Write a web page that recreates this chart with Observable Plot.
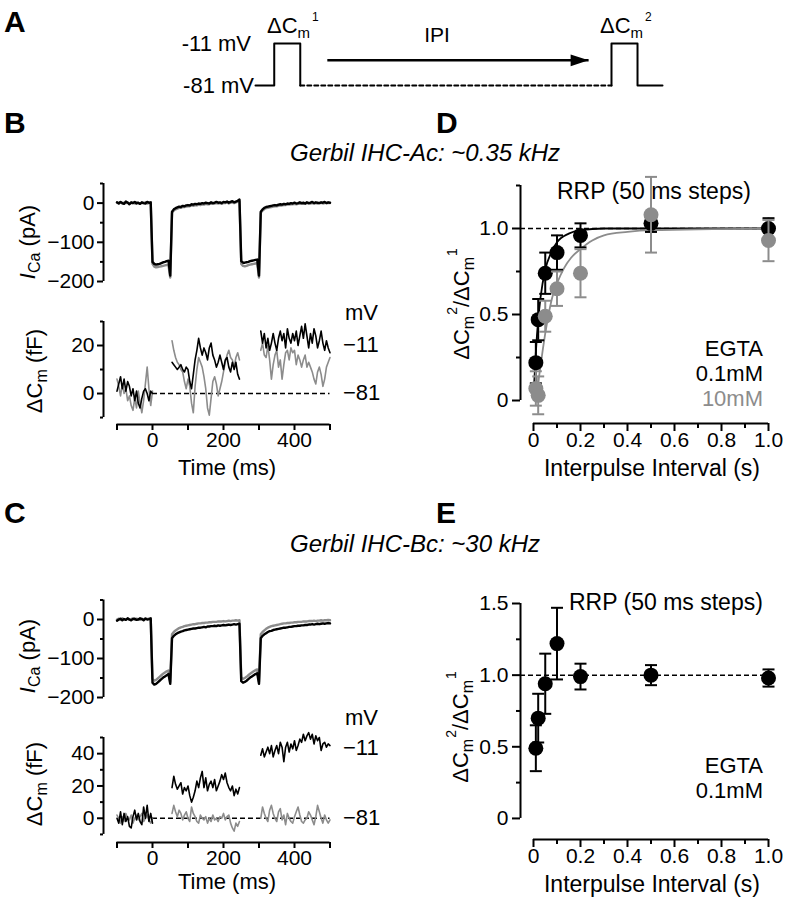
<!DOCTYPE html>
<html><head><meta charset="utf-8">
<script src="https://cdn.jsdelivr.net/npm/d3@7"></script>
<script src="https://cdn.jsdelivr.net/npm/@observablehq/plot@0.6"></script>
<style>
body{margin:0;background:#fff;}
#fig{position:relative;width:785px;height:900px;background:#fff;}
</style></head><body><div id="fig"></div>
<script>
// ---------------- DATA ----------------
// Panel A: voltage protocol (ms, mV)
const protoPulse1T = [-36, 0, 0, 50, 50];
const protoPulse1V = [-81, -81, -11, -11, -81];
const protoIpiT = [50, 648];
const protoIpiV = [-81, -81];
const protoPulse2T = [648, 648, 698, 698, 746];
const protoPulse2V = [-81, -11, -11, -81, -81];
const ipiArrow = {t1: 102, t2: 604, v: -39};

// Calcium current traces (pA), sampled every 5 ms from -100 ms
const icaT0 = -100, icaDt = 5;
const icaB_black = [2,-1,3,0,-2,4,1,-3,2,0,3,-1,1,-2,2,0,-1,3,1,2,
  -150,-155,-157,-156,-155,-153,-151,-150,-148,-147, -185,
  -22,-16,-13,-11,-9,-10,-7,-8,-6,-5,-6,-3,-4,-2,-3,-1,-2,0,-1,1,0,-1,2,0,1,3,1,2,0,3,2,4,1,3,5,2,4,6,9,
  -148,-152,-152,-151,-150,-148,-147,-146,-145,-144, -185,
  -22,-16,-12,-10,-9,-8,-7,-6,-5,-6,-4,-3,-4,-2,-3,-1,-2,0,-1,1,-1,0,2,0,1,-1,2,0,1,3,0,2,1,0,2,1,3,0,2,1];
const icaB_gray = [1,0,2,-1,1,0,2,-2,0,1,-1,2,0,-1,1,0,2,-1,0,1,
  -155,-162,-164,-163,-162,-161,-160,-159,-158,-158, -190,
  -25,-19,-16,-14,-12,-12,-10,-10,-9,-8,-8,-6,-7,-5,-6,-4,-5,-3,-4,-2,-3,-3,-1,-2,-1,0,-1,0,-2,1,0,2,-1,1,2,0,2,3,5,
  -155,-160,-161,-160,-158,-157,-156,-155,-154,-153, -190,
  -25,-19,-15,-13,-12,-11,-10,-9,-8,-8,-7,-6,-6,-5,-5,-4,-4,-3,-3,-2,-3,-2,-1,-2,-1,-2,0,-1,-1,0,-1,0,-1,0,1,-1,0,0,1,0];
const icaC_black = [-3,0,2,-2,1,-1,3,0,-2,1,2,-1,0,3,1,-2,2,0,1,3,
  -162,-167,-165,-161,-157,-153,-149,-146,-143,-140, -165,
  -48,-42,-38,-35,-33,-31,-30,-28,-27,-26,-25,-24,-23,-23,-22,-21,-21,-20,-19,-20,-18,-18,-17,-17,-16,-17,-15,-16,-15,-14,-15,-14,-13,-14,-13,-12,-13,-12,-11,
  -158,-162,-160,-157,-153,-149,-146,-143,-140,-138, -165,
  -48,-42,-38,-35,-32,-30,-29,-27,-26,-25,-24,-23,-22,-21,-21,-20,-19,-19,-18,-17,-17,-16,-16,-15,-15,-14,-14,-13,-13,-12,-13,-12,-11,-12,-11,-10,-11,-10,-9,-10];
const icaC_gray = [0,2,-1,3,1,0,2,-1,1,3,0,2,1,-1,2,0,3,1,2,0,
  -152,-157,-155,-151,-147,-143,-139,-136,-133,-131, -160,
  -38,-32,-28,-25,-22,-20,-19,-17,-16,-15,-14,-13,-12,-12,-11,-10,-10,-9,-9,-8,-8,-7,-7,-6,-6,-6,-5,-5,-5,-4,-5,-4,-3,-4,-3,-3,-2,-3,-2,
  -148,-152,-150,-147,-143,-139,-136,-133,-130,-128, -160,
  -38,-32,-28,-24,-21,-19,-17,-16,-15,-14,-13,-12,-11,-10,-10,-9,-9,-8,-8,-7,-7,-6,-6,-6,-5,-5,-5,-4,-4,-4,-3,-4,-3,-3,-2,-3,-2,-2,-1,-2];

// Capacitance traces (fF), three segments sampled every 5 ms
const cmSegStart = [-100, 55, 305], cmDt = 5;
const cmB_black = [
  [1,4,7,2,6,1,5,3,-1,2,-3,1,-4,-6,-2,1,2,0,-3,1,0],
  [13,12,11,10,11,12,10,9,11,10,5,2,8,14,18,23,19,16,19,17,14,19,21,16,14,11,13,16,13,10,14,15,11,9,13,10,13,8,6],
  [26,21,25,19,23,18,21,25,21,18,23,26,22,25,19,27,23,21,25,22,26,20,24,28,23,29,24,19,25,21,27,24,19,22,26,21,18,22,19,17]];
const cmB_gray = [
  [6,3,-1,4,0,2,-3,-1,-5,-7,-2,-6,1,-4,-8,-3,4,11,2,-5,1],
  [22,18,15,13,12,10,9,5,2,6,3,-4,-8,3,10,15,13,11,7,2,-6,-9,-2,5,7,4,-1,2,5,9,13,16,18,15,14,11,15,17,14],
  [18,21,16,15,20,14,6,12,16,18,11,14,6,12,17,18,14,19,17,18,12,16,14,11,14,16,11,13,11,9,6,4,9,11,8,3,6,11,13,15]];
const cmC_black = [
  [0,-3,4,-4,3,-2,1,-5,-6,1,5,-1,3,-2,-4,7,0,8,-2,3,-3],
  [19,26,21,18,20,22,15,19,17,20,14,10,13,17,23,19,25,29,19,25,17,21,23,19,24,17,20,23,27,24,28,22,19,17,20,14,18,15,19],
  [39,43,38,41,44,40,45,38,42,45,40,47,44,35,44,47,41,46,43,48,42,45,49,47,52,48,51,53,49,52,46,51,48,50,42,46,47,44,46,45]];
const cmC_gray = [
  [2,0,-3,1,-2,3,0,-1,2,-3,0,2,-1,1,3,-2,0,2,-1,-3,0],
  [3,8,4,1,5,3,-1,2,4,0,-2,7,3,1,-2,-3,2,0,-1,1,-3,0,-2,2,-1,0,-2,1,0,3,-1,1,2,-3,-6,-8,-3,-5,-2],
  [0,7,3,0,-2,5,8,3,0,-2,4,6,-1,2,-4,3,0,-2,-3,1,4,7,2,-2,-3,-1,0,4,2,-1,-4,1,8,4,0,-3,2,-1,-3,-1]];

// Panel D: ratio vs interpulse interval
const ipiX = [0.01, 0.02, 0.05, 0.1, 0.2, 0.5, 1.0];
const dBlackY = [0.22, 0.47, 0.74, 0.86, 0.96, 1.03, 1.00];
const dBlackE = [0.12, 0.12, 0.12, 0.10, 0.07, 0.05, 0.06];
const dGrayY  = [0.07, 0.03, 0.49, 0.65, 0.74, 1.08, 0.93];
const dGrayE  = [0.10, 0.11, 0.09, 0.10, 0.14, 0.22, 0.12];
const fitBlackT = [0.003, 0.01, 0.02, 0.03, 0.05, 0.075, 0.1, 0.15, 0.2, 0.3, 0.5, 1.0];
const fitBlackY = [0.10, 0.28, 0.47, 0.60, 0.76, 0.86, 0.92, 0.97, 0.99, 1.0, 1.0, 1.0];
const fitGrayT = [0.013, 0.02, 0.03, 0.04, 0.06, 0.08, 0.1, 0.13, 0.16, 0.2, 0.25, 0.3, 0.4, 0.5, 1.0];
const fitGrayY = [0.0, 0.1, 0.2, 0.3, 0.47, 0.6, 0.68, 0.77, 0.83, 0.88, 0.93, 0.96, 0.98, 0.99, 1.0];
// Panel E
const eBlackY = [0.49, 0.70, 0.94, 1.22, 0.99, 1.00, 0.98];
const eBlackE = [0.16, 0.17, 0.21, 0.25, 0.09, 0.07, 0.06];

// ---------------- DRAWING ----------------
const FONT = '"Liberation Sans", Arial, Helvetica, sans-serif';
const GRAY = "#8c8c8c";
const TICKFONT = 21;
const style = {fontFamily: FONT, fontSize: "21px", color: "#000", background: "none", overflow: "visible"};
const fig = document.getElementById("fig");
function place(el, left, top) {
  el.style.position = "absolute"; el.style.left = left + "px"; el.style.top = top + "px";
  fig.appendChild(el);
}
const fmtNeg = d => (d < 0 ? "\u2212" + Math.abs(d) : String(d));
const blank = () => "";
const zip = (ts, vs) => ts.map((t, i) => ({t, v: vs[i]}));
const sampled = (t0, dt, vs) => vs.map((v, i) => ({t: t0 + i * dt, v}));
const segs = (arrs) => arrs.flatMap((vs, k) => vs.map((v, i) => ({t: cmSegStart[k] + i * cmDt, v, seg: k})));

const capSymbol = {draw(ctx, size) { const r = Math.sqrt(size / Math.PI); ctx.moveTo(-r, 0); ctx.lineTo(r, 0); }};
const headSymbol = {draw(ctx, size) { const r = Math.sqrt(size / Math.PI); ctx.moveTo(0, 0); ctx.lineTo(-2 * r, -0.65 * r); ctx.lineTo(-2 * r, 0.65 * r); ctx.closePath(); }};

// Panel A
place(Plot.plot({
  width: 785, height: 100, marginLeft: 255, marginRight: 123, marginTop: 43, marginBottom: 15,
  x: {domain: [-36, 746], axis: null}, y: {domain: [-81, -11], axis: null}, style,
  marks: [
    Plot.line(zip(protoPulse1T, protoPulse1V), {x: "t", y: "v", strokeWidth: 2}),
    Plot.line(zip(protoIpiT, protoIpiV), {x: "t", y: "v", strokeWidth: 2, strokeDasharray: "4,3"}),
    Plot.line(zip(protoPulse2T, protoPulse2V), {x: "t", y: "v", strokeWidth: 2}),
    Plot.link([ipiArrow], {x1: "t1", x2: "t2", y1: "v", y2: "v", strokeWidth: 2.5}),
    Plot.dot([ipiArrow], {x: "t2", y: "v", symbol: headSymbol, r: 9, fill: "#000", stroke: "none"})
  ]
}), 0, 0);

function icaPlot(black, gray, mt, mb) {
  return Plot.plot({
    width: 340, height: 120, marginLeft: 103, marginRight: 10.5, marginTop: mt, marginBottom: mb,
    x: {domain: [-138, 500], axis: null}, y: {domain: [-200, 50]}, style,
    marks: [
      Plot.ruleX([-138], {y1: -200, y2: 50, strokeWidth: 2}),
      Plot.axisY({ticks: [-200, -100, 0], tickSize: 6, tickPadding: 3, tickFormat: fmtNeg, label: null, strokeWidth: 2, fontSize: TICKFONT}),
      Plot.axisY({ticks: [-150, -50, 50], tickSize: 3, tickFormat: blank, label: null, strokeWidth: 2}),
      Plot.line(sampled(icaT0, icaDt, gray), {x: "t", y: "v", stroke: GRAY, strokeWidth: 2.4}),
      Plot.line(sampled(icaT0, icaDt, black), {x: "t", y: "v", stroke: "#000", strokeWidth: 2.4})
    ]
  });
}
function cmPlot(black, gray, yDom, axTop, major, minor, mt, mb) {
  return Plot.plot({
    width: 340, height: 180, marginLeft: 103, marginRight: 10.5, marginTop: mt, marginBottom: mb,
    x: {domain: [-138, 500]}, y: {domain: yDom}, style,
    marks: [
      Plot.ruleX([-138], {y1: -10, y2: axTop, strokeWidth: 2}),
      Plot.axisY({ticks: major, tickSize: 6, tickPadding: 3, tickFormat: fmtNeg, label: null, strokeWidth: 2, fontSize: TICKFONT}),
      Plot.axisY({ticks: minor, tickSize: 3, tickFormat: blank, label: null, strokeWidth: 2}),
      Plot.ruleY([yDom[0]], {x1: -100, x2: 500, strokeWidth: 2}),
      Plot.axisX({ticks: [-100, 0, 100, 200, 300, 400, 500], tickSize: 6, tickPadding: 2,
        tickFormat: d => ([0, 200, 400].includes(d) ? String(d) : ""), label: null, strokeWidth: 2, fontSize: TICKFONT}),
      Plot.ruleY([0], {x1: 0, x2: 500, strokeDasharray: "5,3", strokeWidth: 1.5}),
      Plot.line(segs(gray), {x: "t", y: "v", z: "seg", stroke: GRAY, strokeWidth: 1.6}),
      Plot.line(segs(black), {x: "t", y: "v", z: "seg", stroke: "#000", strokeWidth: 1.6})
    ]
  });
}
place(icaPlot(icaB_black, icaB_gray, 13, 9), 0, 170);
place(cmPlot(cmB_black, cmB_gray, [-12.9, 30], 30, [0, 20], [-10, 10, 30], 21, 56), 0, 300);
place(icaPlot(icaC_black, icaC_gray, 14.5, 8), 0, 585);
place(cmPlot(cmC_black, cmC_gray, [-15, 50], 50, [0, 20, 40], [-10, 10, 30, 50], 17, 58), 0, 720);

function ratioPlot(series, yDom, yTop, major, minor, mt, mb) {
  const marks = [
    Plot.ruleX([-0.0553], {y1: 0, y2: yTop, strokeWidth: 2}),
    Plot.axisY({ticks: major, tickSize: 8, tickPadding: 4, tickFormat: d => (d === 0 ? "0" : d.toFixed(1)), label: null, strokeWidth: 2, fontSize: TICKFONT}),
    Plot.axisY({ticks: minor, tickSize: 4, tickFormat: blank, label: null, strokeWidth: 2}),
    Plot.ruleY([yDom[0]], {x1: 0, x2: 1, strokeWidth: 2}),
    Plot.axisX({ticks: [0, 0.2, 0.4, 0.6, 0.8, 1.0], tickSize: 8, tickPadding: 1, tickFormat: d => (d === 0 ? "0" : d.toFixed(1)), label: null, strokeWidth: 2, fontSize: TICKFONT}),
    Plot.axisX({ticks: [0.1, 0.3, 0.5, 0.7, 0.9], tickSize: 5, tickFormat: blank, label: null, strokeWidth: 2}),
    Plot.ruleY([1], {x1: -0.0553, x2: 1.0, strokeDasharray: "5,3", strokeWidth: 1.5})
  ];
  for (const s of series) {
    if (s.fit) marks.push(Plot.line(s.fit, {x: "t", y: "v", stroke: s.color, strokeWidth: 1.8, curve: "monotone-x"}));
  }
  for (const s of series) {
    const pts = ipiX.map((x, i) => ({x, y: s.y[i], e: s.e[i]}));
    marks.push(
      Plot.ruleX(pts, {x: "x", y1: d => d.y - d.e, y2: d => d.y + d.e, stroke: s.color, strokeWidth: 2}),
      Plot.dot(pts, {x: "x", y: d => d.y + d.e, symbol: capSymbol, r: 6, stroke: s.color, strokeWidth: 2}),
      Plot.dot(pts, {x: "x", y: d => d.y - d.e, symbol: capSymbol, r: 6, stroke: s.color, strokeWidth: 2}),
      Plot.dot(pts, {x: "x", y: "y", r: 7.5, fill: s.color, stroke: "none"})
    );
  }
  return Plot.plot({
    width: 385, height: 310, marginLeft: 120, marginRight: 17, marginTop: mt, marginBottom: mb,
    x: {domain: [-0.0553, 1.0]}, y: {domain: yDom}, style, marks
  });
}
place(ratioPlot([
  {y: dBlackY, e: dBlackE, color: "#000", fit: zip(fitBlackT, fitBlackY)},
  {y: dGrayY, e: dGrayE, color: GRAY, fit: zip(fitGrayT, fitGrayY)}
], [-0.1337, 1.25], 1.25, [0, 0.5, 1.0], [0.25, 0.75, 1.25], 15, 57), 400, 170);
place(ratioPlot([
  {y: eBlackY, e: eBlackE, color: "#000"}
], [-0.147, 1.5], 1.5, [0, 0.5, 1.0, 1.5], [0.25, 0.75, 1.25], 13, 61), 400, 590);

// ---------------- TEXT OVERLAY ----------------
const ov = d3.select(fig).append("svg").attr("width", 785).attr("height", 900)
  .style("position", "absolute").style("left", "0px").style("top", "0px")
  .style("font-family", FONT).style("pointer-events", "none");
function txt(x, y, parts, o = {}) {
  const t = ov.append("text")
    .attr("transform", `translate(${x},${y})` + (o.rotate ? ` rotate(${o.rotate})` : ""))
    .attr("text-anchor", o.anchor || "start").attr("font-size", o.size || 22)
    .attr("font-weight", o.weight || "normal").attr("font-style", o.italic ? "italic" : "normal")
    .attr("fill", o.fill || "#000");
  if (typeof parts === "string") t.text(parts);
  else parts.forEach(p => {
    const s = t.append("tspan").text(p.t);
    if (p.dy) s.attr("dy", p.dy);
    if (p.dx) s.attr("dx", p.dx);
    if (p.size) s.attr("font-size", p.size);
    if (p.italic) s.attr("font-style", "italic");
  });
}
const dcm = (sup) => [{t: "\u0394C"}, {t: "m", dy: 5, size: 15}, {t: sup, dy: -17, dx: 2, size: 12}];
const ratioLabel = [{t: "\u0394C"}, {t: "m", dy: 5, size: 16}, {t: "2", dy: -17, dx: 1, size: 14},
  {t: "/\u0394C", dy: 12}, {t: "m", dy: 5, size: 16}, {t: "1", dy: -17, dx: 1, size: 14}];
const icaLabel = [{t: "I", italic: true}, {t: "Ca", dy: 5, size: 16}, {t: " (pA)", dy: -5}];
const cmLabel = [{t: "\u0394C"}, {t: "m", dy: 5, size: 16}, {t: " (fF)", dy: -5}];

// Panel letters
txt(4, 32, "A", {size: 30, weight: "bold"});
txt(4, 133, "B", {size: 30, weight: "bold"});
txt(436, 133, "D", {size: 30, weight: "bold"});
txt(4, 523, "C", {size: 30, weight: "bold"});
txt(436, 523, "E", {size: 30, weight: "bold"});

// Panel A labels
txt(251, 51, "-11 mV", {anchor: "end", size: 22});
txt(254, 93, "-81 mV", {anchor: "end", size: 22});
txt(267, 33, dcm("1"), {size: 22});
txt(437, 42, "IPI", {anchor: "middle", size: 21});
txt(600, 33, dcm("2"), {size: 22});

// Titles
txt(290, 161, "Gerbil IHC-Ac: ~0.35 kHz", {size: 24, italic: true});
txt(290, 552, "Gerbil IHC-Bc: ~30 kHz", {size: 24, italic: true});

// B / C axis labels
txt(35, 242, icaLabel, {rotate: -90, anchor: "middle"});
txt(42, 371, cmLabel, {rotate: -90, anchor: "middle"});
txt(227, 475, "Time (ms)", {anchor: "middle", size: 22});
txt(35, 656, icaLabel, {rotate: -90, anchor: "middle"});
txt(42, 784, cmLabel, {rotate: -90, anchor: "middle"});
txt(227, 889, "Time (ms)", {anchor: "middle", size: 22});
txt(345, 320, "mV");
txt(343, 352, "\u221211");
txt(343, 400, "\u221281");
txt(345, 725, "mV");
txt(343, 755, "\u221211");
txt(343, 825, "\u221281");

// D / E labels
txt(469, 304, ratioLabel, {rotate: -90, anchor: "middle"});
txt(652, 476, "Interpulse Interval (s)", {anchor: "middle", size: 23});
txt(557, 199, "RRP (50 ms steps)", {size: 23});
txt(763, 356, "EGTA", {anchor: "end", size: 22});
txt(763, 381, "0.1mM", {anchor: "end", size: 22});
txt(763, 406, "10mM", {anchor: "end", size: 22, fill: GRAY});
txt(468, 727, ratioLabel, {rotate: -90, anchor: "middle"});
txt(652, 892, "Interpulse Interval (s)", {anchor: "middle", size: 23});
txt(569, 610, "RRP (50 ms steps)", {size: 23});
txt(763, 773, "EGTA", {anchor: "end", size: 22});
txt(763, 798, "0.1mM", {anchor: "end", size: 22});
</script></body></html>
